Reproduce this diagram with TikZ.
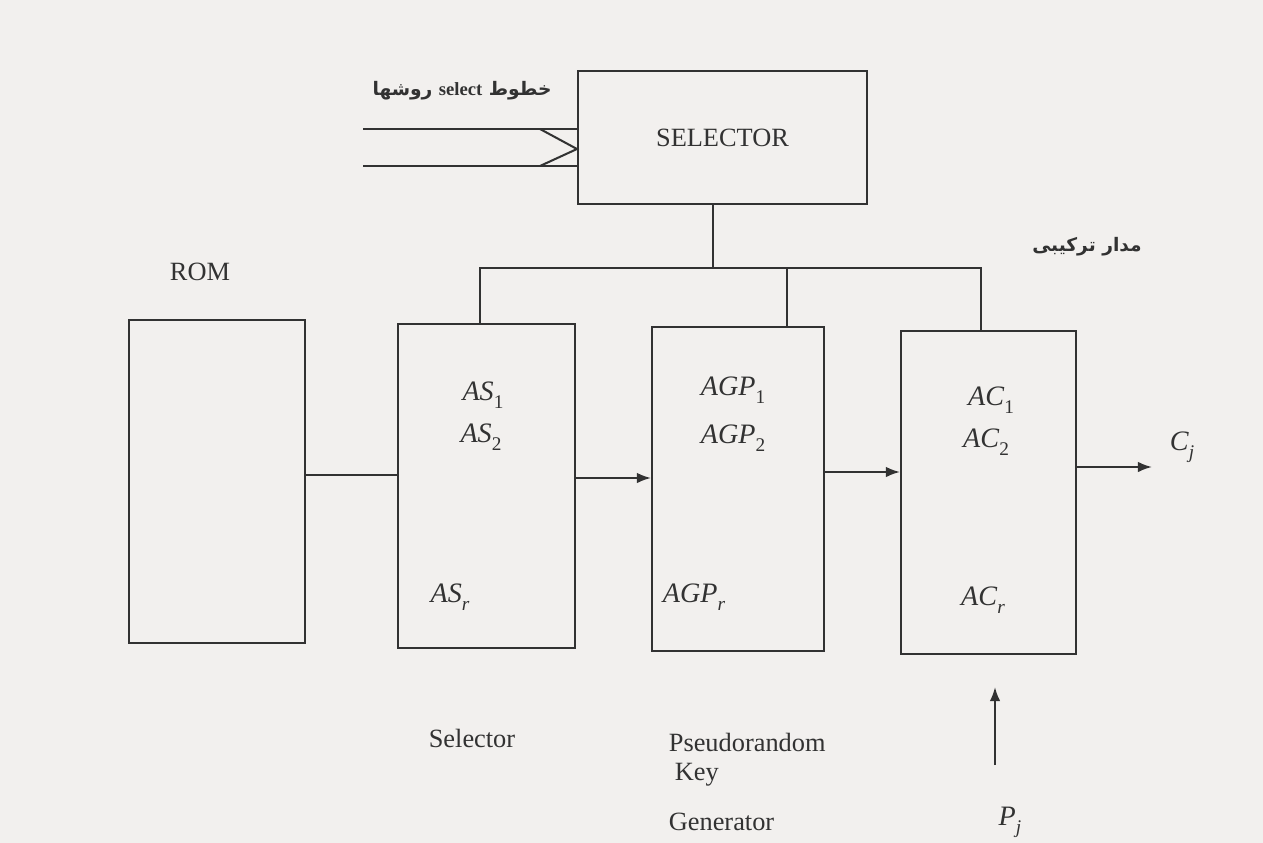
\documentclass[tikz,border=0pt]{standalone}
\usepackage{fontspec}
\setmainfont{Liberation Serif}
\newfontfamily\farsi[Script=Arabic]{DejaVu Sans}
\TeXXeTstate=1
\usepackage{tikz}
\usetikzlibrary{positioning}
\usetikzlibrary{arrows}
\usetikzlibrary{arrows.meta}
\definecolor{ink}{RGB}{50,50,50}
\definecolor{paper}{RGB}{242,240,238}
\newcommand{\idx}[2]{\textit{#1}\raisebox{-0.6ex}{\fontsize{11}{12}\selectfont #2}}

\begin{document}
\begin{tikzpicture}[>={Latex[length=8pt,width=6pt]}, line width=1.15pt, ink,
  blk/.style={draw, rectangle, inner sep=0pt, minimum width=#1, minimum height=6.47cm},
  txt/.style={font=\fontsize{15}{18}\selectfont, text=ink},
  lbl/.style={font=\fontsize{16}{19}\selectfont, text=ink},
  fa/.style={font=\farsi\bfseries\fontsize{10.6}{13}\selectfont, text=ink}]

\fill[paper] (0,0) rectangle (25.26,-16.86);
\useasboundingbox (0,0) rectangle (25.26,-16.86);

% selector on top
\node[blk=5.78cm, minimum height=2.66cm, txt] (sel) at (14.45,-2.75) {SELECTOR};
\node[fa] (selin) at (9.24,-1.82) {\beginR خطوط \beginL{\rmfamily\bfseries select}\endL{} روشها\endR};

\coordinate (in1) at (7.26,-2.58);
\coordinate (in2) at (7.26,-3.32);
\coordinate (fork1) at (10.8,-2.58);
\coordinate (fork2) at (10.8,-3.32);
\draw (in1) -- (sel.west |- in1);
\draw (in2) -- (sel.west |- in2);
\draw (fork1) -- (sel.west |- 0,-2.98) -- (fork2);

% the four blocks
\node[blk=3.52cm] (rom) at (4.34,-9.63) {};
\node[blk=3.54cm] (as) at (9.73,-9.72) {};
\node[blk=3.44cm] (agp) at (14.76,-9.78) {};
\node[blk=3.5cm] (ac) at (19.77,-9.85) {};

\node[txt] (romlbl) at (4.0,-5.44) {ROM};
\node[fa] (comb) at (21.74,-4.94) {\beginR مدار ترکیبی\endR};

\node[lbl] (as1) at (9.66,-7.9) {\idx{AS}{1}};
\node[lbl] (as2) at (9.62,-8.74) {\idx{AS}{2}};
\node[lbl] (asr) at (9.0,-11.94) {\idx{AS}{\textit{r}}};
\node[lbl] (agp1) at (14.66,-7.8) {\idx{AGP}{1}};
\node[lbl] (agp2) at (14.66,-8.76) {\idx{AGP}{2}};
\node[lbl] (agpr) at (13.88,-11.94) {\idx{AGP}{\textit{r}}};
\node[lbl] (ac1) at (19.82,-8.0) {\idx{AC}{1}};
\node[lbl] (ac2) at (19.72,-8.84) {\idx{AC}{2}};
\node[lbl] (acr) at (19.66,-12.0) {\idx{AC}{\textit{r}}};

% bus from the selector
\coordinate (busT) at (14.26,-5.36);
\coordinate (busL) at (9.6,-5.36);
\coordinate (busM) at (15.74,-5.36);
\coordinate (busR) at (19.62,-5.36);
\draw (sel.south -| busT) -- (busT);
\draw (as.north -| busL) -- (busL) -- (busR) -- (ac.north -| busR);
\draw (busM) -- (agp.north -| busM);

% data path
\coordinate (link) at (0,-9.5);
\coordinate (a1) at (0,-9.56);
\coordinate (a2) at (0,-9.44);
\coordinate (cout) at (23.04,-9.34);
\draw (rom.east |- link) -- (as.west |- link);
\draw[->] (as.east |- a1) -- (agp.west |- a1);
\draw[->] (agp.east |- a2) -- (ac.west |- a2);
\draw[->] (ac.east |- cout) -- (cout);
\node[lbl] (cj) at (23.64,-8.94) {\idx{C}{\textit{j}}};

\coordinate (pin) at (19.9,-15.3);
\coordinate (ptip) at (19.9,-13.74);
\draw[->] (pin) -- (ptip);
\node[lbl] (pj) at (20.2,-16.45) {\idx{P}{\textit{j}}};

% captions
\node[txt] (sellbl) at (9.44,-14.76) {Selector};
\node[txt, anchor=west] (prk1) at (13.24,-14.84) {Pseudorandom};
\node[txt, anchor=west] (prk2) at (13.36,-15.5) {Key};
\node[txt, anchor=west] (prk3) at (13.24,-16.44) {Generator};
\end{tikzpicture}
\end{document}
